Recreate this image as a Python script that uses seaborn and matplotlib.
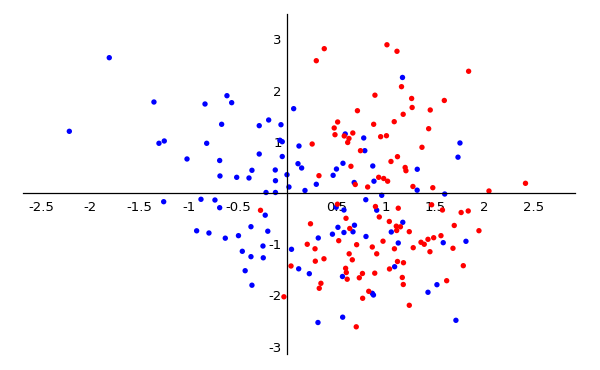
import matplotlib
matplotlib.use("Agg")
import matplotlib.pyplot as plt
import numpy as np
import pandas as pd
import seaborn as sns
from matplotlib.ticker import FixedLocator, MultipleLocator


blue_x = [
    -1.809, -1.355, -0.836, -2.215, -1.304, -1.250, -0.819, -1.019, -0.613, -0.565,
    -0.667, -0.285, -0.189, -0.064, 0.065, -0.074, -0.051, 0.119, -0.687, -0.285,
    -0.051, 0.109, 0.146, -0.684, -0.514, -0.389, -0.359, -0.122, -0.120, -0.003,
    0.017, 0.180, 0.295, 0.466, 0.500, 0.566, 0.589, 0.777, 0.788, 0.869,
    0.680, 0.881, 1.171, 1.755, 1.735, 1.321, 1.320, -0.216, -0.120, 0.960,
    -0.877, -0.735, -0.687, -1.256, -0.224, -0.369, -0.198, -0.921, -0.796, -0.630,
    -0.496, -0.247, -0.457, -0.369, -0.244, 0.043, 0.116, -0.428, -0.359, 0.224,
    0.497, 0.576, 0.515, 0.683, 0.459, 0.576, 0.668, 0.315, 0.561, 0.864,
    0.876, 0.563, 0.312, 0.798, 0.909, 0.800, 1.057, 1.174, 1.128, 1.091,
    1.600, 1.585, 1.816, 1.521, 1.430, 1.714,
]
blue_y = [
    2.641, 1.776, 1.737, 1.204, 0.970, 1.015, 0.970, 0.664, 1.899, 1.763,
    1.341, 1.314, 1.425, 1.333, 1.646, 1.029, 1.001, 0.917, 0.634, 0.761,
    0.712, 0.572, 0.488, 0.332, 0.306, 0.293, 0.443, 0.449, 0.240, 0.357,
    0.117, 0.049, 0.170, 0.345, 0.468, 0.580, 1.152, 1.074, 0.826, 0.527,
    0.205, 0.230, 2.255, 0.976, 0.699, 0.463, 0.055, 0.010, 0.010, -0.045,
    -0.123, -0.137, -0.287, -0.170, -0.433, -0.658, -0.746, -0.738, -0.781, -0.882,
    -0.833, -1.035, -1.138, -1.243, -1.265, -1.099, -1.480, -1.517, -1.800, -1.575,
    -0.279, -0.332, -0.670, -0.629, -0.804, -0.771, -0.757, -0.878, -1.630, -1.958,
    -1.991, -2.424, -2.528, -0.131, -0.336, -0.849, -0.761, -0.572, -0.976, -1.439,
    -0.020, -0.970, -0.943, -1.790, -1.938, -2.485,
]

red_x = [
    0.376, 0.295, 1.013, 1.115, 1.161, 0.891, 0.713, 1.178, 0.512, 1.087,
    0.477, 0.878, 0.485, 0.579, 0.666, 0.627, 0.614, 0.949, 1.008, 0.253,
    0.744, 1.120, 1.054, 0.647, 1.198, 1.206, 0.322, 0.929, 0.980, 1.020,
    0.691, 0.817, 1.843, 1.264, 1.269, 1.596, 1.453, 1.437, 1.369, 1.277,
    1.479, 2.050, 2.421, -0.272, 0.038, -0.034, 0.510, 0.597, 0.635, 0.236,
    0.523, 0.203, 0.282, 0.285, 0.373, 0.705, 0.629, 0.661, 0.593, 0.600,
    0.609, 0.732, 0.764, 0.342, 0.325, 0.766, 0.828, 0.701, 0.896, 0.935,
    1.037, 0.973, 0.864, 0.909, 0.889, 1.039, 1.089, 1.108, 1.150, 1.112,
    1.120, 1.181, 1.128, 1.169, 1.179, 1.467, 1.577, 1.767, 1.839, 1.240,
    1.697, 1.948, 1.562, 1.488, 1.430, 1.359, 1.392, 1.280, 1.450, 1.684,
    1.789, 1.620, 1.240,
]
red_y = [
    2.817, 2.582, 2.893, 2.766, 2.075, 1.909, 1.606, 1.536, 1.386, 1.392,
    1.269, 1.341, 1.138, 1.113, 1.171, 1.064, 0.986, 1.099, 1.118, 0.956,
    0.826, 0.709, 0.615, 0.521, 0.498, 0.435, 0.338, 0.306, 0.283, 0.230,
    0.166, 0.117, 2.376, 1.845, 1.669, 1.806, 1.620, 1.255, 0.892, 0.127,
    0.103, 0.039, 0.189, -0.338, -1.425, -2.026, -0.219, -0.494, -0.693, -0.601,
    -0.931, -1.001, -1.089, -1.331, -1.284, -1.009, -1.187, -1.304, -1.470, -1.552,
    -1.683, -1.655, -1.571, -1.763, -1.860, -2.055, -1.919, -2.612, -0.264, -0.468,
    -0.556, -0.941, -1.054, -1.187, -1.565, -1.483, -1.089, -0.648, -0.660, -0.732,
    -1.337, -1.361, -0.297, -1.649, -1.786, -0.230, -0.332, -0.381, -0.351, -0.755,
    -0.634, -0.736, -0.833, -0.873, -0.904, -0.962, -1.001, -1.068, -1.146, -1.079,
    -1.419, -1.712, -2.192,
]

x_major = [-2.5, -2, -1.5, -1, -0.5, 0.5, 1, 1.5, 2, 2.5]
y_major = [-3, -2, -1, 1, 2, 3]

sns.set_style("white")
plt.rcParams["font.family"] = ["DejaVu Sans"]
plt.rcParams["axes.unicode_minus"] = False

df = pd.DataFrame({
    "x": blue_x + red_x,
    "y": blue_y + red_y,
    "group": ["blue"] * len(blue_x) + ["red"] * len(red_x),
})

fig = plt.figure(figsize=(6, 3.7), dpi=100)
ax = fig.add_axes([0.0383, 0.0432, 0.92, 0.919])
sns.scatterplot(
    data=df, x="x", y="y", hue="group",
    palette={"blue": "#0000ff", "red": "#ff0000"},
    s=15, linewidth=0, legend=False, ax=ax,
)

ax.set_xlim(-2.686, 2.924)
ax.set_ylim(-3.143, 3.494)
ax.set_xlabel("")
ax.set_ylabel("")

for side in ("top", "right"):
    ax.spines[side].set_visible(False)
ax.spines["left"].set_position(("data", 0))
ax.spines["bottom"].set_position(("data", 0))
for side in ("left", "bottom"):
    ax.spines[side].set_color("black")
    ax.spines[side].set_linewidth(0.9)

ax.xaxis.set_major_locator(FixedLocator(x_major))
ax.yaxis.set_major_locator(FixedLocator(y_major))
ax.xaxis.set_minor_locator(MultipleLocator(0.1))
ax.yaxis.set_minor_locator(MultipleLocator(0.2))
ax.set_xticklabels([f"{v:g}" for v in x_major])
ax.set_yticklabels([f"{v:g}" for v in y_major])
ax.tick_params(which="major", direction="in", length=5, width=0.9,
               color="black", labelsize=9.5, labelcolor="black")
ax.tick_params(which="minor", direction="in", length=2.5, width=0.7, color="black")
ax.tick_params(axis="x", which="major", pad=6)
ax.tick_params(axis="y", which="major", pad=4)
ax.grid(False)

fig.savefig("out.png", dpi=100)
